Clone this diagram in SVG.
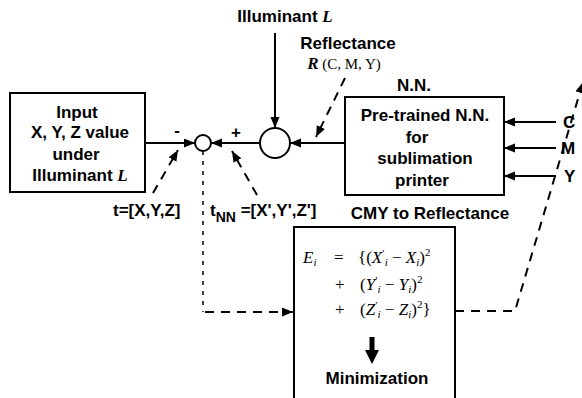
<svg xmlns="http://www.w3.org/2000/svg" width="582" height="398" viewBox="0 0 582 398">
<defs>
<marker id="ah" markerUnits="userSpaceOnUse" markerWidth="12" markerHeight="10" refX="11" refY="4.5" orient="auto">
<path d="M0,0 L11,4.5 L0,9 z" fill="#000"/>
</marker>
<style>
.lb{font-family:"Liberation Sans",Arial,sans-serif;font-weight:bold;font-size:17px;fill:#000}
.it{font-family:"Liberation Serif","Times New Roman",serif;font-style:italic}
.sr{font-family:"Liberation Serif","Times New Roman",serif;font-weight:normal}
.eq{font-family:"Liberation Serif","Times New Roman",serif;font-size:17px;fill:#000}
.sb{font-size:11px}
.box{fill:#fff;stroke:#000;stroke-width:2}
.ln{fill:none;stroke:#000;stroke-width:2}
.dl{fill:none;stroke:#000;stroke-width:2;stroke-dasharray:9 7}
.dt{fill:none;stroke:#000;stroke-width:1.5;stroke-dasharray:4 6}
</style>
</defs>
<rect width="582" height="398" fill="#fff"/>

<g id="input">
<rect class="box" x="10" y="93" width="135" height="99"/>
<text class="lb" text-anchor="middle"><tspan x="77" y="118">Input</tspan><tspan x="80" y="138">X, Y, Z value</tspan><tspan x="76" y="160">under</tspan><tspan x="80" y="181">Illuminant <tspan class="it">L</tspan></tspan></text>
</g>

<g id="illuminant">
<text class="lb" x="285" y="22" text-anchor="middle">Illuminant <tspan class="it">L</tspan></text>
</g>

<g id="reflectance">
<text class="lb" x="348" y="49" text-anchor="middle">Reflectance</text>
<text class="lb" x="344" y="69" text-anchor="middle"><tspan class="it">R</tspan><tspan class="sr" font-size="15"> (C, M, Y)</tspan></text>
</g>

<g id="sum-junction">
<circle class="ln" cx="203" cy="143" r="8"/>
<text class="lb" x="177" y="136" text-anchor="middle">-</text>
<text class="lb" x="236" y="138" text-anchor="middle">+</text>
</g>

<g id="product-junction">
<circle class="ln" cx="275" cy="143" r="15"/>
</g>

<g id="nn">
<text class="lb" x="414" y="91" text-anchor="middle">N.N.</text>
<rect class="box" x="345" y="97" width="159" height="98"/>
<text class="lb" text-anchor="middle"><tspan x="425" y="121">Pre-trained N.N.</tspan><tspan x="417" y="143">for</tspan><tspan x="425" y="164">sublimation</tspan><tspan x="422" y="186">printer</tspan></text>
<text class="lb" x="430" y="219" text-anchor="middle">CMY to Reflectance</text>
</g>

<g id="cmy">
<text class="lb" x="563" y="128">C</text>
<text class="lb" x="561" y="154">M</text>
<text class="lb" x="564" y="182">Y</text>
</g>

<g id="t-label">
<text class="lb" x="113" y="216">t=[X,Y,Z]</text>
</g>

<g id="tnn-label">
<text class="lb" x="210" y="216">t<tspan font-size="14" dy="6">NN</tspan><tspan dy="-6"> =[X',Y',Z']</tspan></text>
</g>

<g id="minimization">
<rect class="box" x="294" y="227" width="161" height="185"/>
<text class="eq" x="303" y="263"><tspan class="it">E</tspan><tspan class="it sb" dy="3">i</tspan><tspan x="334" dy="-3">=</tspan><tspan x="358">{(</tspan><tspan class="it">X</tspan><tspan class="sb" dy="-6">′</tspan><tspan class="it sb" dy="9">i</tspan><tspan dy="-3"> − </tspan><tspan class="it">X</tspan><tspan class="it sb" dy="3">i</tspan><tspan dy="-3">)</tspan><tspan class="sb" dy="-7">2</tspan></text>
<text class="eq" x="335" y="290">+<tspan x="360">(</tspan><tspan class="it">Y</tspan><tspan class="sb" dy="-6">′</tspan><tspan class="it sb" dy="9">i</tspan><tspan dy="-3"> − </tspan><tspan class="it">Y</tspan><tspan class="it sb" dy="3">i</tspan><tspan dy="-3">)</tspan><tspan class="sb" dy="-7">2</tspan></text>
<text class="eq" x="335" y="315">+<tspan x="360">(</tspan><tspan class="it">Z</tspan><tspan class="sb" dy="-6">′</tspan><tspan class="it sb" dy="9">i</tspan><tspan dy="-3"> − </tspan><tspan class="it">Z</tspan><tspan class="it sb" dy="3">i</tspan><tspan dy="-3">)</tspan><tspan class="sb" dy="-7">2</tspan><tspan dy="7">}</tspan></text>
<path d="M369.5,337 H374.5 V350 H379 L372,364 L365,350 H369.5 z" fill="#000"/>
<text class="lb" x="377" y="384" text-anchor="middle">Minimization</text>
</g>

<g id="connectors">
<line class="ln" x1="275" y1="33" x2="275" y2="128" marker-end="url(#ah)"/>
<line class="ln" x1="145" y1="143" x2="195" y2="143" marker-end="url(#ah)"/>
<line class="ln" x1="260" y1="143" x2="211" y2="143" marker-end="url(#ah)"/>
<line class="ln" x1="345" y1="143" x2="290" y2="143" marker-end="url(#ah)"/>
<line class="ln" x1="556" y1="122" x2="504" y2="122" marker-end="url(#ah)"/>
<line class="ln" x1="556" y1="148" x2="504" y2="148" marker-end="url(#ah)"/>
<line class="ln" x1="556" y1="176" x2="504" y2="176" marker-end="url(#ah)"/>
<line class="dl" x1="345" y1="78" x2="316" y2="137" marker-end="url(#ah)"/>
<line class="dl" x1="153" y1="193" x2="178" y2="150" marker-end="url(#ah)"/>
<line class="dl" x1="257" y1="195" x2="232" y2="151" marker-end="url(#ah)"/>
<path class="dt" d="M203,151 V312"/>
<line class="dl" x1="205" y1="312" x2="293" y2="312" marker-end="url(#ah)"/>
<path class="dl" d="M455,311 H515 L583,82" marker-end="url(#ah)"/>
</g>
</svg>
